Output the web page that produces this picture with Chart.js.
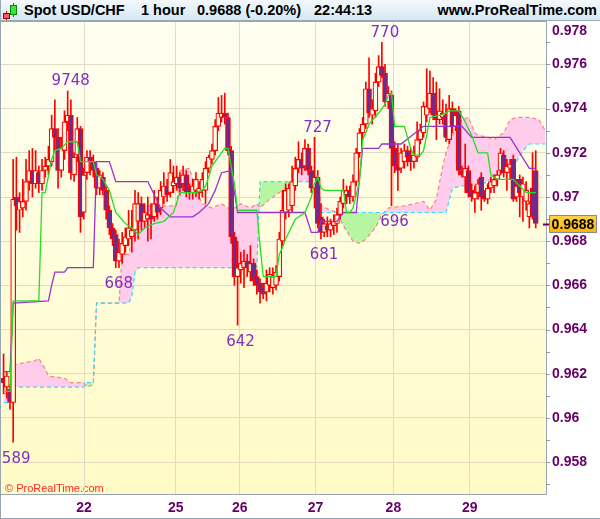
<!DOCTYPE html>
<html>
<head>
<meta charset="utf-8">
<script src="https://cdn.jsdelivr.net/npm/chart.js@4.4.1/dist/chart.umd.min.js"></script>
<style>
  html, body { margin: 0; padding: 0; background: #fff; }
  #wrap { position: relative; width: 600px; height: 519px; overflow: hidden; font-family: "Liberation Sans", Arial, sans-serif; }
  canvas { position: absolute; left: 0; top: 0; }
  #bar { position: absolute; left: 0; top: 0; width: 600px; height: 21px; box-sizing: border-box;
         background: linear-gradient(#f4f9fd, #d5e7f3); border-bottom: 1px solid #9aabb8; border-left: 1px solid #9aabb8; }
  #bar span { position: absolute; top: 2px; font-weight: bold; font-size: 14.5px; color: #000; white-space: nowrap; }
  .ic { position: absolute; box-sizing: border-box; }
</style>
</head>
<body>
<div id="wrap">
  <canvas id="chart" width="600" height="519"></canvas>
  <div id="bar">
    <div class="ic" style="left:5px;top:11px;width:1px;height:9px;background:#c00"></div>
    <div class="ic" style="left:2px;top:13px;width:7px;height:6px;background:#f06060;border:1px solid #a00"></div>
    <div class="ic" style="left:12px;top:3px;width:1px;height:14px;background:#080"></div>
    <div class="ic" style="left:9px;top:5px;width:7px;height:10px;background:#40e040;border:1px solid #080"></div>
    <span style="left:23px">Spot USD/CHF</span>
    <span style="left:140px">1 hour</span>
    <span style="left:196px">0.9688 (-0.20%)</span>
    <span style="left:313px">22:44:13</span>
    <span style="right:3px">www.ProRealTime.com</span>
  </div>
</div>
<script>
// hourly candles (bar index 0 = first bar on the left)
const opens = [.9618,.9614,.9613,.9607,.9700,.9694,.9695,.9698,.9707,.9712,
  .9706,.9711,.9706,.9712,.9714,.9716,.9731,.9727,.9712,.9721,
  .9734,.9737,.9710,.9719,.9731,.9693,.9711,.9718,.9716,.9713,
  .9704,.9709,.9703,.9694,.9686,.9683,.9671,.9674,.9678,.9681,
  .9682,.9685,.9689,.9697,.9689,.9690,.9692,.9691,.9697,.9695,
  .9700,.9705,.9702,.9705,.9706,.9709,.9706,.9710,.9704,.9702,
  .9703,.9702,.9703,.9703,.9713,.9717,.9721,.9732,.9736,.9738,
  .9736,.9721,.9682,.9664,.9667,.9668,.9671,.9666,.9670,.9664,
  .9661,.9659,.9657,.9660,.9659,.9660,.9664,.9680,.9693,.9694,
  .9696,.9705,.9713,.9717,.9714,.9722,.9712,.9704,.9709,.9691,
  .9684,.9687,.9685,.9687,.9688,.9692,.9697,.9701,.9703,.9700,
  .9707,.9720,.9729,.9733,.9749,.9737,.9739,.9752,.9759,.9756,
  .9743,.9746,.9722,.9714,.9713,.9716,.9721,.9718,.9716,.9718,
  .9726,.9729,.9737,.9740,.9747,.9737,.9735,.9736,.9737,.9726,
  .9740,.9732,.9739,.9712,.9709,.9712,.9703,.9699,.9702,.9709,
  .9701,.9699,.9704,.9705,.9708,.9712,.9719,.9711,.9713,.9717,
  .9700,.9708,.9700,.9698,.9691,.9704,.9712];
const highs = [.9629,.9621,.9615,.9717,.9718,.9702,.9708,.9717,.9721,.9722,
  .9721,.9714,.9717,.9718,.9723,.9737,.9744,.9731,.9727,.9739,
  .9748,.9744,.9720,.9736,.9732,.9713,.9721,.9721,.9719,.9715,
  .9712,.9711,.9705,.9696,.9688,.9685,.9681,.9684,.9686,.9694,
  .9694,.9703,.9702,.9700,.9697,.9700,.9697,.9703,.9700,.9707,
  .9711,.9708,.9717,.9714,.9714,.9711,.9714,.9712,.9706,.9708,
  .9711,.9707,.9711,.9716,.9719,.9724,.9735,.9745,.9746,.9747,
  .9738,.9723,.9684,.9680,.9675,.9676,.9674,.9678,.9672,.9667,
  .9663,.9661,.9667,.9668,.9668,.9669,.9684,.9703,.9706,.9706,
  .9714,.9718,.9725,.9720,.9726,.9724,.9714,.9727,.9712,.9697,
  .9690,.9691,.9690,.9692,.9695,.9700,.9708,.9705,.9705,.9710,
  .9722,.9731,.9736,.9752,.9763,.9744,.9756,.9764,.9770,.9760,
  .9750,.9748,.9725,.9724,.9722,.9724,.9723,.9722,.9723,.9734,
  .9733,.9743,.9758,.9757,.9754,.9752,.9749,.9744,.9742,.9746,
  .9743,.9740,.9741,.9714,.9724,.9714,.9706,.9705,.9708,.9711,
  .9703,.9706,.9709,.9710,.9712,.9722,.9721,.9717,.9717,.9719,
  .9708,.9710,.9709,.9707,.9698,.9720,.9721];
const lows = [.9611,.9609,.9604,.9589,.9685,.9684,.9691,.9694,.9703,.9700,
  .9704,.9702,.9703,.9709,.9710,.9714,.9721,.9704,.9709,.9717,
  .9730,.9708,.9707,.9716,.9684,.9690,.9708,.9710,.9709,.9701,
  .9701,.9701,.9690,.9683,.9678,.9668,.9668,.9670,.9675,.9678,
  .9675,.9680,.9681,.9685,.9686,.9680,.9681,.9689,.9690,.9692,
  .9697,.9698,.9700,.9702,.9703,.9701,.9703,.9700,.9699,.9699,
  .9700,.9699,.9700,.9697,.9711,.9715,.9719,.9730,.9734,.9733,
  .9719,.9679,.9660,.9642,.9661,.9659,.9664,.9662,.9660,.9656,
  .9652,.9654,.9653,.9657,.9656,.9658,.9662,.9678,.9690,.9691,
  .9693,.9703,.9711,.9710,.9712,.9710,.9702,.9695,.9686,.9681,
  .9682,.9682,.9682,.9683,.9684,.9690,.9695,.9697,.9697,.9698,
  .9705,.9718,.9726,.9731,.9736,.9733,.9736,.9750,.9754,.9741,
  .9740,.9696,.9711,.9703,.9711,.9713,.9714,.9712,.9713,.9716,
  .9724,.9727,.9734,.9738,.9735,.9726,.9733,.9733,.9725,.9724,
  .9729,.9730,.9710,.9709,.9702,.9700,.9698,.9693,.9699,.9694,
  .9698,.9697,.9702,.9702,.9705,.9710,.9709,.9703,.9708,.9698,
  .9698,.9691,.9689,.9694,.9686,.9690,.9686];
const closes = [.9616,.9619,.9607,.9699,.9696,.9698,.9698,.9707,.9712,.9706,
  .9712,.9706,.9712,.9714,.9717,.9731,.9727,.9712,.9722,.9734,
  .9737,.9711,.9718,.9731,.9691,.9710,.9718,.9716,.9712,.9704,
  .9710,.9703,.9694,.9686,.9681,.9671,.9675,.9679,.9682,.9686,
  .9685,.9697,.9697,.9689,.9693,.9692,.9690,.9697,.9693,.9703,
  .9705,.9701,.9711,.9707,.9709,.9704,.9710,.9702,.9702,.9705,
  .9708,.9704,.9708,.9713,.9718,.9721,.9732,.9738,.9738,.9736,
  .9721,.9682,.9664,.9668,.9670,.9671,.9668,.9670,.9662,.9660,
  .9657,.9656,.9661,.9665,.9664,.9666,.9681,.9694,.9703,.9704,
  .9707,.9713,.9717,.9713,.9722,.9712,.9704,.9709,.9688,.9684,
  .9688,.9685,.9688,.9689,.9692,.9698,.9703,.9703,.9700,.9707,
  .9720,.9729,.9733,.9749,.9738,.9740,.9752,.9759,.9755,.9743,
  .9747,.9722,.9714,.9712,.9720,.9721,.9718,.9716,.9719,.9726,
  .9730,.9741,.9741,.9747,.9737,.9735,.9739,.9738,.9727,.9740,
  .9732,.9737,.9712,.9710,.9713,.9702,.9700,.9702,.9706,.9700,
  .9699,.9704,.9707,.9708,.9710,.9720,.9711,.9714,.9715,.9699,
  .9705,.9702,.9706,.9703,.9697,.9691,.9688];

// Ichimoku lines, read at their turning points (bar index / price)
const tenkanIdx = [0,2,3,11,12,13,15,16,18,20, 23,24,28,29,31,33,35,38,40,42,
  44,47,50,53,55,60,62,63,64,65, 67,69,70,71,72,73,79,80,81,85,
  86,87,88,91,94,96,97,98,99,100, 106,107,108,109,110,111,112,113,114,117,
  119,120,121,122,125,126,127,128,130,131, 132,133,136,138,139,142,144,146,148,151,
  152,154,159,161,163,166];
const tenkanVal = [.9612,.9612,.9653,.9653,.9702,.9702,.9717,.9721,.9722,.9725,
  .9725,.9716,.9716,.9710,.9708,.9703,.9693,.9688,.9686,.9683,
  .9686,.9688,.9689,.9693,.9702,.9702,.9703,.9705,.9709,.9714,
  .9718,.9722,.9722,.9714,.9706,.9694,.9694,.9678,.9664,.9664,
  .9674,.9677,.9681,.9690,.9693,.9700,.9706,.9709,.9704,.9703,
  .9703,.9693,.9693,.9695,.9701,.9707,.9726,.9729,.9733,.9738,
  .9742,.9746,.9747,.9732,.9732,.9727,.9722,.9719,.9719,.9721,
  .9728,.9736,.9737,.9738,.9739,.9739,.9734,.9728,.9720,.9720,
  .9710,.9708,.9708,.9705,.9702,.9702];
const kijunIdx = [0,2,3,14,15,16,19,20,28,29, 33,35,45,47,49,52,59,61,64,66,
  68,71,73,94,96,98,99,104,106,110, 111,112,117,118,124,131,143,146,158,161,
  164,166];
const kijunVal = [.9621,.9621,.9652,.9653,.9660,.9666,.9666,.9668,.9668,.9716,
  .9716,.9707,.9707,.9701,.9695,.9691,.9691,.9693,.9697,.9703,
  .9711,.9712,.9693,.9693,.9684,.9684,.9689,.9689,.9693,.9693,
  .9708,.9722,.9722,.9724,.9724,.9732,.9732,.9727,.9727,.9720,
  .9713,.9713];
const cloudIdx = [0,2,3,10,11,13,14,19,21,25, 26,28,29,36,37,39,40,41,42,54,
  55,58,60,62,65,68,71,74,77,79, 80,83,86,89,91,93,95,97,98,99,
  102,104,106,109,111,113,116,118,120,125, 131,133,135,137,138,140,143,145,147,148,
  151,153,156,158,160,162,164,167,169];
const spanA = [.9611,.9611,.9624,.9626,.9627,.9622,.9619,.9618,.9616,.9616,
  .9614,.9615,.9652,.9652,.9674,.9674,.9680,.9690,.9696,.9696,
  .9712,.9713,.9703,.9697,.9695,.9697,.9694,.9697,.9695,.9697,
  .9695,.9699,.9702,.9705,.9707,.9717,.9717,.9710,.9709,.9696,
  .9694,.9693,.9687,.9680,.9679,.9681,.9686,.9692,.9695,.9696,
  .9698,.9694,.9699,.9714,.9720,.9728,.9735,.9736,.9729,.9728,
  .9727,.9726,.9729,.9735,.9736,.9736,.9736,.9735,.9730];
const spanB = [.9607,.9607,.9614,.9614,.9614,.9614,.9614,.9614,.9614,.9614,
  .9616,.9616,.9652,.9652,.9652,.9652,.9655,.9666,.9668,.9668,
  .9668,.9668,.9668,.9668,.9668,.9668,.9668,.9668,.9668,.9668,
  .9707,.9707,.9707,.9707,.9707,.9707,.9707,.9707,.9707,.9693,
  .9693,.9693,.9693,.9693,.9693,.9693,.9693,.9693,.9693,.9693,
  .9693,.9693,.9693,.9693,.9693,.9704,.9705,.9705,.9705,.9705,
  .9707,.9710,.9711,.9713,.9716,.9721,.9724,.9724,.9724];

// highs / lows marked on the chart
const annoText = ['589', '9748', '668', '642', '727', '681', '770', '696'];
const annoIdx = [3, 20, 35, 73, 97, 99, 118, 121];
const annoVal = [0.9589, 0.9748, 0.9668, 0.9642, 0.9727, 0.9681, 0.9770, 0.9696];
const annoHigh = [false, true, false, false, true, false, true, false];

// axes
const dayLabels = ['22', '25', '26', '27', '28', '29'];
const dayTickAt = [25.1, 53.7, 73.7, 97.3, 121.6, 145.4];
const yTicks = [0.958, 0.96, 0.962, 0.964, 0.966, 0.968, 0.97, 0.972, 0.974, 0.976, 0.978];
const yTickLabels = ['0.958', '0.96', '0.962', '0.964', '0.966', '0.968', '0.97', '0.972', '0.974', '0.976', '0.978'];

const AXIS_PURPLE = '#660066';
const FONT = '"Liberation Sans", Arial, sans-serif';

let plotGrad = null;
function plotFill(chart) {
  const a = chart.chartArea;
  if (!a) return '#fffde2';
  if (!plotGrad) {
    plotGrad = chart.ctx.createLinearGradient(0, a.top, 0, a.bottom);
    plotGrad.addColorStop(0, '#fffff2');
    plotGrad.addColorStop(1, '#fffbc6');
  }
  return plotGrad;
}

const pts = (xs, ys) => xs.map((x, k) => ({ x: x, y: ys[k] }));
const wicks = opens.map((_, i) => ({ x: i, y: [lows[i], highs[i]] }));
const bodies = opens.map((o, i) => ({ x: i, y: [o, closes[i]] }));

const bgPlugin = {
  id: 'plotBg',
  beforeDraw(chart) {
    const { ctx, chartArea: a } = chart;
    ctx.save();
    ctx.fillStyle = plotFill(chart);
    ctx.fillRect(a.left, a.top, a.right - a.left, a.bottom - a.top);
    ctx.fillStyle = '#ff2a2a';
    ctx.font = '11px ' + FONT;
    ctx.textBaseline = 'alphabetic';
    ctx.fillText('\u00a9 ProRealTime.com', a.left + 4, a.bottom - 2);
    ctx.restore();
  }
};

const labelPlugin = {
  id: 'labels',
  afterDatasetsDraw(chart) {
    const { ctx } = chart;
    const { x, y } = chart.scales;
    ctx.save();
    ctx.font = '15px "DejaVu Sans", sans-serif';
    ctx.fillStyle = '#8030c0';
    ctx.textAlign = 'center';
    annoText.forEach((t, k) => {
      const px = x.getPixelForValue(annoIdx[k]) + 3;
      const py = y.getPixelForValue(annoVal[k]);
      if (annoHigh[k]) {
        ctx.textBaseline = 'bottom';
        ctx.fillText(t, px, py - 2);
      } else {
        ctx.textBaseline = 'top';
        ctx.fillText(t, px, py + 9);
      }
    });
    ctx.restore();
  },
  afterDraw(chart) {
    const { ctx, chartArea: a } = chart;
    const y = chart.scales.y;
    ctx.save();
    // frame
    ctx.strokeStyle = '#97a5b2';
    ctx.lineWidth = 1;
    ctx.strokeRect(a.left - 0.5, a.top - 0.5, a.right - a.left + 1, a.bottom - a.top + 1);
    ctx.beginPath();
    ctx.moveTo(0.5, 0); ctx.lineTo(0.5, 519);
    ctx.moveTo(0, 518.5); ctx.lineTo(600, 518.5);
    ctx.stroke();
    // minor ticks on the price axis
    ctx.strokeStyle = '#8d9aa6';
    for (let k = 957; k <= 978; k++) {
      const py = Math.round(y.getPixelForValue(k / 1000)) + 0.5;
      if (py < a.top || py > a.bottom) continue;
      ctx.beginPath(); ctx.moveTo(a.right, py); ctx.lineTo(a.right + 4, py); ctx.stroke();
    }
    // price labels
    ctx.font = 'bold 14px ' + FONT;
    ctx.fillStyle = AXIS_PURPLE;
    ctx.textAlign = 'left';
    ctx.textBaseline = 'middle';
    yTicks.forEach((v, k) => {
      const py = Math.max(y.getPixelForValue(v), a.top + 9);
      ctx.fillText(yTickLabels[k], a.right + 6, py);
    });
    // last price box
    const last = closes[closes.length - 1];
    const py = Math.round(y.getPixelForValue(last));
    ctx.strokeStyle = AXIS_PURPLE;
    ctx.lineWidth = 2;
    ctx.beginPath(); ctx.moveTo(a.right - 3, py + 0.5); ctx.lineTo(a.right + 3, py + 0.5); ctx.stroke();
    const g = ctx.createLinearGradient(0, py - 9, 0, py + 9);
    g.addColorStop(0, '#ffd24a');
    g.addColorStop(1, '#ffb400');
    ctx.fillStyle = g;
    ctx.fillRect(a.right + 3, py - 9, 48, 18);
    ctx.strokeStyle = '#8a8a8a';
    ctx.lineWidth = 1;
    ctx.strokeRect(a.right + 3.5, py - 8.5, 47, 17);
    ctx.fillStyle = '#000';
    ctx.textAlign = 'center';
    ctx.fillText(last.toFixed(4), a.right + 27, py + 1);
    ctx.restore();
  }
};

new Chart(document.getElementById('chart'), {
  type: 'bar',
  data: {
    datasets: [
      {
        type: 'line', label: 'Senkou A', data: pts(cloudIdx, spanA), order: 7,
        borderColor: '#ff8080', borderWidth: 1.2, borderDash: [4, 3], pointRadius: 0,
        fill: { target: 1, above: '#ffcceb', below: '#b6f6a2' }
      },
      {
        type: 'line', label: 'Senkou B', data: pts(cloudIdx, spanB), order: 6,
        borderColor: '#33dcff', borderWidth: 1.2, borderDash: [4, 3], pointRadius: 0, fill: false
      },
      {
        label: 'wick', data: wicks, order: 5, grouped: false,
        barThickness: 1, backgroundColor: '#ff0000', borderWidth: 0
      },
      {
        label: 'body', data: bodies, order: 4, grouped: false,
        barThickness: 5, borderWidth: 1.2, borderSkipped: false, borderColor: '#ff0000',
        backgroundColor: ctx => {
          if (ctx.type !== 'data') return '#6a2c91';
          const i = ctx.dataIndex;
          return closes[i] < opens[i] ? '#6a2c91' : plotFill(ctx.chart);
        }
      },
      {
        type: 'line', label: 'Kijun', data: pts(kijunIdx, kijunVal), order: 3,
        borderColor: '#9933cc', borderWidth: 1.3, pointRadius: 0, fill: false
      },
      {
        type: 'line', label: 'Tenkan', data: pts(tenkanIdx, tenkanVal), order: 2,
        borderColor: '#22e022', borderWidth: 1.3, pointRadius: 0, fill: false
      }
    ]
  },
  options: {
    responsive: false,
    animation: false,
    layout: { padding: { top: 22, left: 1, right: 0, bottom: 0 } },
    plugins: { legend: { display: false }, tooltip: { enabled: false }, filler: { drawTime: 'beforeDatasetDraw' } },
    events: [],
    scales: {
      x: {
        type: 'linear', min: -0.8, max: 169.2, offset: false,
        afterBuildTicks: s => { s.ticks = dayTickAt.map(v => ({ value: v })); },
        afterFit: s => { s.height = 25; },
        ticks: {
          callback: (v, i) => dayLabels[i], autoSkip: false, maxRotation: 0, padding: 6,
          color: AXIS_PURPLE, font: { family: FONT, size: 14, weight: 'bold' }
        },
        grid: { color: '#e0dcc4', drawTicks: false, offset: false },
        border: { color: '#97a5b2' }
      },
      y: {
        position: 'right', min: 0.95656, max: 0.97792,
        afterBuildTicks: s => { s.ticks = yTicks.filter(v => v <= s.max && v >= s.min).map(v => ({ value: v })); },
        afterFit: s => { s.width = 54; },
        ticks: { display: false },
        grid: { color: '#e0dcc4', drawTicks: false },
        border: { color: '#97a5b2' }
      }
    }
  },
  plugins: [bgPlugin, labelPlugin]
});
</script>
</body>
</html>
